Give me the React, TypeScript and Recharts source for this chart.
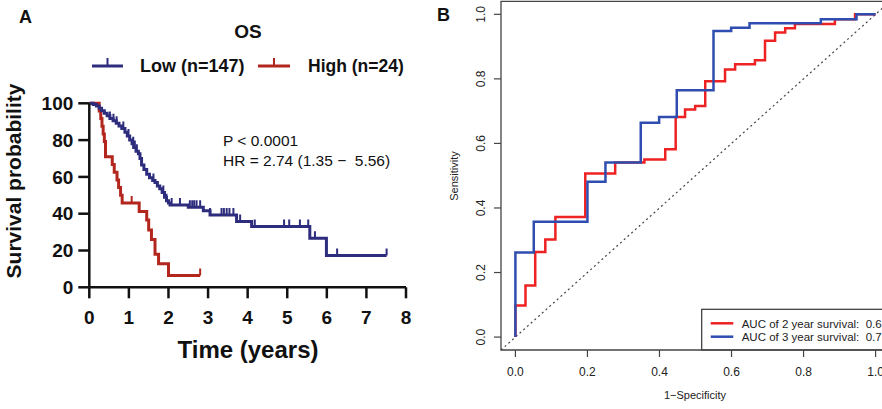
import React from "react";
import {
  ComposedChart,
  Line,
  Scatter,
  XAxis,
  YAxis,
  ReferenceArea,
  ReferenceLine,
} from "recharts";

const FONT = "'Liberation Sans', Arial, Helvetica, sans-serif";
const NAVY = "#2E2D7D";
const DARK_RED = "#B3261E";
const ROC_RED = "#EE2222";
const ROC_BLUE = "#2F4DB0";

// panel A: Kaplan-Meier, OS
const timeTicks = [0, 1, 2, 3, 4, 5, 6, 7, 8];
const survTicks = [0, 20, 40, 60, 80, 100];

const lowTime = [
  0, 0.1, 0.18, 0.25, 0.31, 0.38, 0.45, 0.52, 0.6, 0.68, 0.75, 0.82, 0.9, 0.96,
  1.02, 1.08, 1.12, 1.18, 1.24, 1.28, 1.32, 1.38, 1.45, 1.52, 1.6, 1.66, 1.72,
  1.78, 1.84, 1.9, 1.95, 2.0, 2.04, 2.5, 2.88, 3.05, 3.72, 4.1, 5.57, 5.99, 7.51,
];
const lowSurv = [
  100, 99.3, 98.6, 97.3, 96.0, 94.6, 93.2, 91.8, 90.5, 89.1, 87.7, 86.3, 84.2,
  82.2, 80.1, 78.0, 76.0, 74.0, 72.6, 70.0, 66.5, 64.0, 61.5, 59.6, 58.0, 57.0,
  55.0, 53.5, 51.5, 49.0, 47.0, 45.8, 44.7, 43.5, 41.6, 39.3, 35.7, 33.0, 26.6,
  17.3, 17.3,
];
const lowCensor = [
  0.52, 0.61, 0.69, 0.86, 0.99, 1.11, 1.15, 1.2, 1.62, 1.87, 1.95, 2.08, 2.29,
  2.54, 2.6, 2.65, 2.71, 2.8, 3.05, 3.34, 3.4, 3.47, 3.54, 3.64, 3.81, 4.18,
  4.92, 5.05, 5.32, 5.53, 5.7, 6.26, 7.51,
];

const highTime = [
  0, 0.25, 0.29, 0.32, 0.35, 0.38, 0.41, 0.58, 0.63, 0.7, 0.74, 0.79, 0.83, 1.26,
  1.45, 1.5, 1.57, 1.66, 1.75, 2.0, 2.8,
];
const highSurv = [
  100, 95.8, 91.7, 87.5, 83.3, 79.2, 71, 66.7, 62.5, 58.3, 54.2, 50, 45.8, 41.2,
  36.6, 31.1, 26, 18, 12.8, 6.4, 6.4,
];
const highCensor = [1.07, 2.8];

// panel B: time-dependent ROC
const rocTicks = [0, 0.2, 0.4, 0.6, 0.8, 1.0];
const fpr2 = [
  0, 0, 0.028, 0.055, 0.083, 0.111, 0.194, 0.277, 0.358, 0.416, 0.445, 0.471,
  0.499, 0.527, 0.582, 0.61, 0.665, 0.693, 0.721, 0.749, 0.776, 0.887, 0.943, 1.0,
];
const tpr2 = [
  0, 0.098, 0.16, 0.264, 0.302, 0.372, 0.507, 0.541, 0.55, 0.582, 0.682, 0.705,
  0.716, 0.793, 0.829, 0.845, 0.858, 0.918, 0.944, 0.957, 0.97, 0.985, 1.0, 1.0,
];
const fpr3 = [0, 0, 0.051, 0.2, 0.25, 0.348, 0.399, 0.448, 0.55, 0.599, 0.65, 0.848, 0.947, 1.0];
const tpr3 = [0, 0.262, 0.357, 0.481, 0.541, 0.664, 0.682, 0.765, 0.948, 0.958, 0.972, 0.985, 1.0, 1.0];

const toSteps = (t: number[], s: number[]) => t.map((v, i) => ({ t: v, s: s[i] }));

// survival value of the step curve at time x (for the censor marks)
function survAt(t: number[], s: number[], x: number) {
  let v = s[0];
  for (let i = 0; i < t.length; i++) if (t[i] <= x) v = s[i];
  return v;
}

const censorPoints = (c: number[], t: number[], s: number[]) =>
  c.map((x) => ({ t: x, s: survAt(t, s, x) }));

const toRoc = (f: number[], p: number[]) => f.map((v, i) => ({ fpr: v, tpr: p[i] }));

const censorShape = (color: string) => (props: any) => {
  const { cx, cy } = props;
  return <line x1={cx} x2={cx} y1={cy} y2={cy - 7} stroke={color} strokeWidth={2} />;
};

const boldTick = { fill: "#111", fontSize: 19, fontWeight: 700, fontFamily: FONT };

function KMPanel() {
  return (
    <ComposedChart
      width={460}
      height={409}
      margin={{ top: 103.3, right: 54, bottom: 61.7, left: 0 }}
    >
      <XAxis
        type="number"
        dataKey="t"
        domain={[0, 8]}
        ticks={timeTicks}
        height={60}
        tick={boldTick}
        tickSize={11}
        tickMargin={12}
        axisLine={{ stroke: "#111", strokeWidth: 2.5 }}
        tickLine={{ stroke: "#111", strokeWidth: 2.5 }}
        allowDataOverflow
      />
      <YAxis
        type="number"
        dataKey="s"
        domain={[0, 100]}
        ticks={survTicks}
        width={89.3}
        tick={boldTick}
        tickSize={11}
        tickMargin={5}
        axisLine={{ stroke: "#111", strokeWidth: 2.5 }}
        tickLine={{ stroke: "#111", strokeWidth: 2.5 }}
      />
      <Line
        data={toSteps(highTime, highSurv)}
        dataKey="s"
        type="stepAfter"
        stroke={DARK_RED}
        strokeWidth={3}
        dot={false}
        isAnimationActive={false}
      />
      <Line
        data={toSteps(lowTime, lowSurv)}
        dataKey="s"
        type="stepAfter"
        stroke={NAVY}
        strokeWidth={3}
        dot={false}
        isAnimationActive={false}
      />
      <Scatter
        data={censorPoints(highCensor, highTime, highSurv)}
        dataKey="s"
        shape={censorShape(DARK_RED)}
        isAnimationActive={false}
      />
      <Scatter
        data={censorPoints(lowCensor, lowTime, lowSurv)}
        dataKey="s"
        shape={censorShape(NAVY)}
        isAnimationActive={false}
      />

      <text x={19} y={23} fontSize={18} fontWeight={700} fontFamily={FONT} fill="#111">A</text>
      <text x={437} y={21} fontSize={18} fontWeight={700} fontFamily={FONT} fill="#111">B</text>
      <text x={248} y={38} textAnchor="middle" fontSize={19} fontWeight={700} fontFamily={FONT} fill="#111">
        OS
      </text>

      {/* legend */}
      <line x1={92} x2={123} y1={66} y2={66} stroke={NAVY} strokeWidth={3} />
      <line x1={107.5} x2={107.5} y1={66} y2={58} stroke={NAVY} strokeWidth={2} />
      <text x={140} y={72} fontSize={18} fontWeight={700} fontFamily={FONT} fill="#111">
        Low (n=147)
      </text>
      <line x1={258} x2={290} y1={66} y2={66} stroke={DARK_RED} strokeWidth={3} />
      <line x1={274} x2={274} y1={66} y2={58} stroke={DARK_RED} strokeWidth={2} />
      <text x={308} y={72} fontSize={17.5} fontWeight={700} fontFamily={FONT} fill="#111">
        High (n=24)
      </text>

      <text x={223} y={146} fontSize={15.5} fontFamily={FONT} fill="#111">P &lt; 0.0001</text>
      <text x={223} y={166} fontSize={15.5} fontFamily={FONT} fill="#111" style={{ whiteSpace: "pre" }}>
        {"HR = 2.74 (1.35 \u2212  5.56)"}
      </text>

      <text
        x={21}
        y={181}
        transform="rotate(-90 21 181)"
        textAnchor="middle"
        fontSize={21}
        fontWeight={700}
        fontFamily={FONT}
        fill="#111"
      >
        Survival probability
      </text>
      <text x={248} y={358} textAnchor="middle" fontSize={24} fontWeight={700} fontFamily={FONT} fill="#111">
        Time (years)
      </text>
    </ComposedChart>
  );
}

const rocYTick = (props: any) => {
  const { x, y, payload } = props;
  return (
    <text
      x={x}
      y={y}
      transform={`rotate(-90 ${x} ${y})`}
      textAnchor="middle"
      fontSize={12}
      fontFamily={FONT}
      fill="#222"
    >
      {Number(payload.value).toFixed(1)}
    </text>
  );
};

function RocPanel() {
  return (
    <ComposedChart
      width={470}
      height={409}
      margin={{ top: 1.4, right: 20, bottom: 0, left: 0 }}
    >
      <XAxis
        type="number"
        dataKey="fpr"
        domain={[-0.04, 1.04]}
        ticks={rocTicks}
        tickFormatter={(v: number) => v.toFixed(1)}
        height={59}
        tick={{ fill: "#222", fontSize: 12, fontFamily: FONT }}
        tickSize={7}
        tickMargin={10}
        axisLine={false}
        tickLine={{ stroke: "#444", strokeWidth: 1.2 }}
        allowDataOverflow
      />
      <YAxis
        type="number"
        dataKey="tpr"
        domain={[-0.04, 1.04]}
        ticks={rocTicks}
        width={61}
        tick={rocYTick}
        tickSize={7}
        tickMargin={9}
        axisLine={false}
        tickLine={{ stroke: "#444", strokeWidth: 1.2 }}
        allowDataOverflow
      />
      <ReferenceArea
        x1={-0.04}
        x2={1.04}
        y1={-0.04}
        y2={1.04}
        fill="none"
        stroke="#444"
        strokeWidth={1.3}
        ifOverflow="visible"
      />
      <ReferenceLine
        segment={[
          { x: -0.04, y: -0.04 },
          { x: 1.04, y: 1.04 },
        ]}
        stroke="#444"
        strokeWidth={1.2}
        strokeDasharray="2 3"
        ifOverflow="visible"
      />
      <Line
        data={toRoc(fpr2, tpr2)}
        dataKey="tpr"
        type="stepAfter"
        stroke={ROC_RED}
        strokeWidth={2.5}
        dot={false}
        isAnimationActive={false}
      />
      <Line
        data={toRoc(fpr3, tpr3)}
        dataKey="tpr"
        type="stepAfter"
        stroke={ROC_BLUE}
        strokeWidth={2.5}
        dot={false}
        isAnimationActive={false}
      />

      {/* legend, bottomright */}
      <rect x={261.7} y={309.3} width={220} height={40.7} fill="#fff" stroke="#333" strokeWidth={1.2} />
      <line x1={270.7} x2={293.3} y1={323.3} y2={323.3} stroke={ROC_RED} strokeWidth={2.5} />
      <line x1={270.7} x2={293.3} y1={336.7} y2={336.7} stroke={ROC_BLUE} strokeWidth={2.5} />
      <text x={301.7} y={327.5} fontSize={11.5} fontFamily={FONT} fill="#222" style={{ whiteSpace: "pre" }}>
        {"AUC of 2 year survival:  0.68"}
      </text>
      <text x={301.7} y={340.5} fontSize={11.5} fontFamily={FONT} fill="#222" style={{ whiteSpace: "pre" }}>
        {"AUC of 3 year survival:  0.73"}
      </text>

      <text
        x={18}
        y={176}
        transform="rotate(-90 18 176)"
        textAnchor="middle"
        fontSize={11}
        fontFamily={FONT}
        fill="#222"
      >
        Sensitivity
      </text>
      <text x={255} y={399} textAnchor="middle" fontSize={11} fontFamily={FONT} fill="#222">
        1{"\u2212"}Specificity
      </text>
    </ComposedChart>
  );
}

export default function App() {
  return (
    <div
      style={{
        position: "fixed",
        left: 0,
        top: 0,
        width: 882,
        height: 409,
        overflow: "hidden",
        background: "#fff",
        fontFamily: FONT,
      }}
    >
      <div style={{ position: "absolute", left: 0, top: 0 }}>
        <KMPanel />
      </div>
      <div style={{ position: "absolute", left: 440, top: 0 }}>
        <RocPanel />
      </div>
    </div>
  );
}
